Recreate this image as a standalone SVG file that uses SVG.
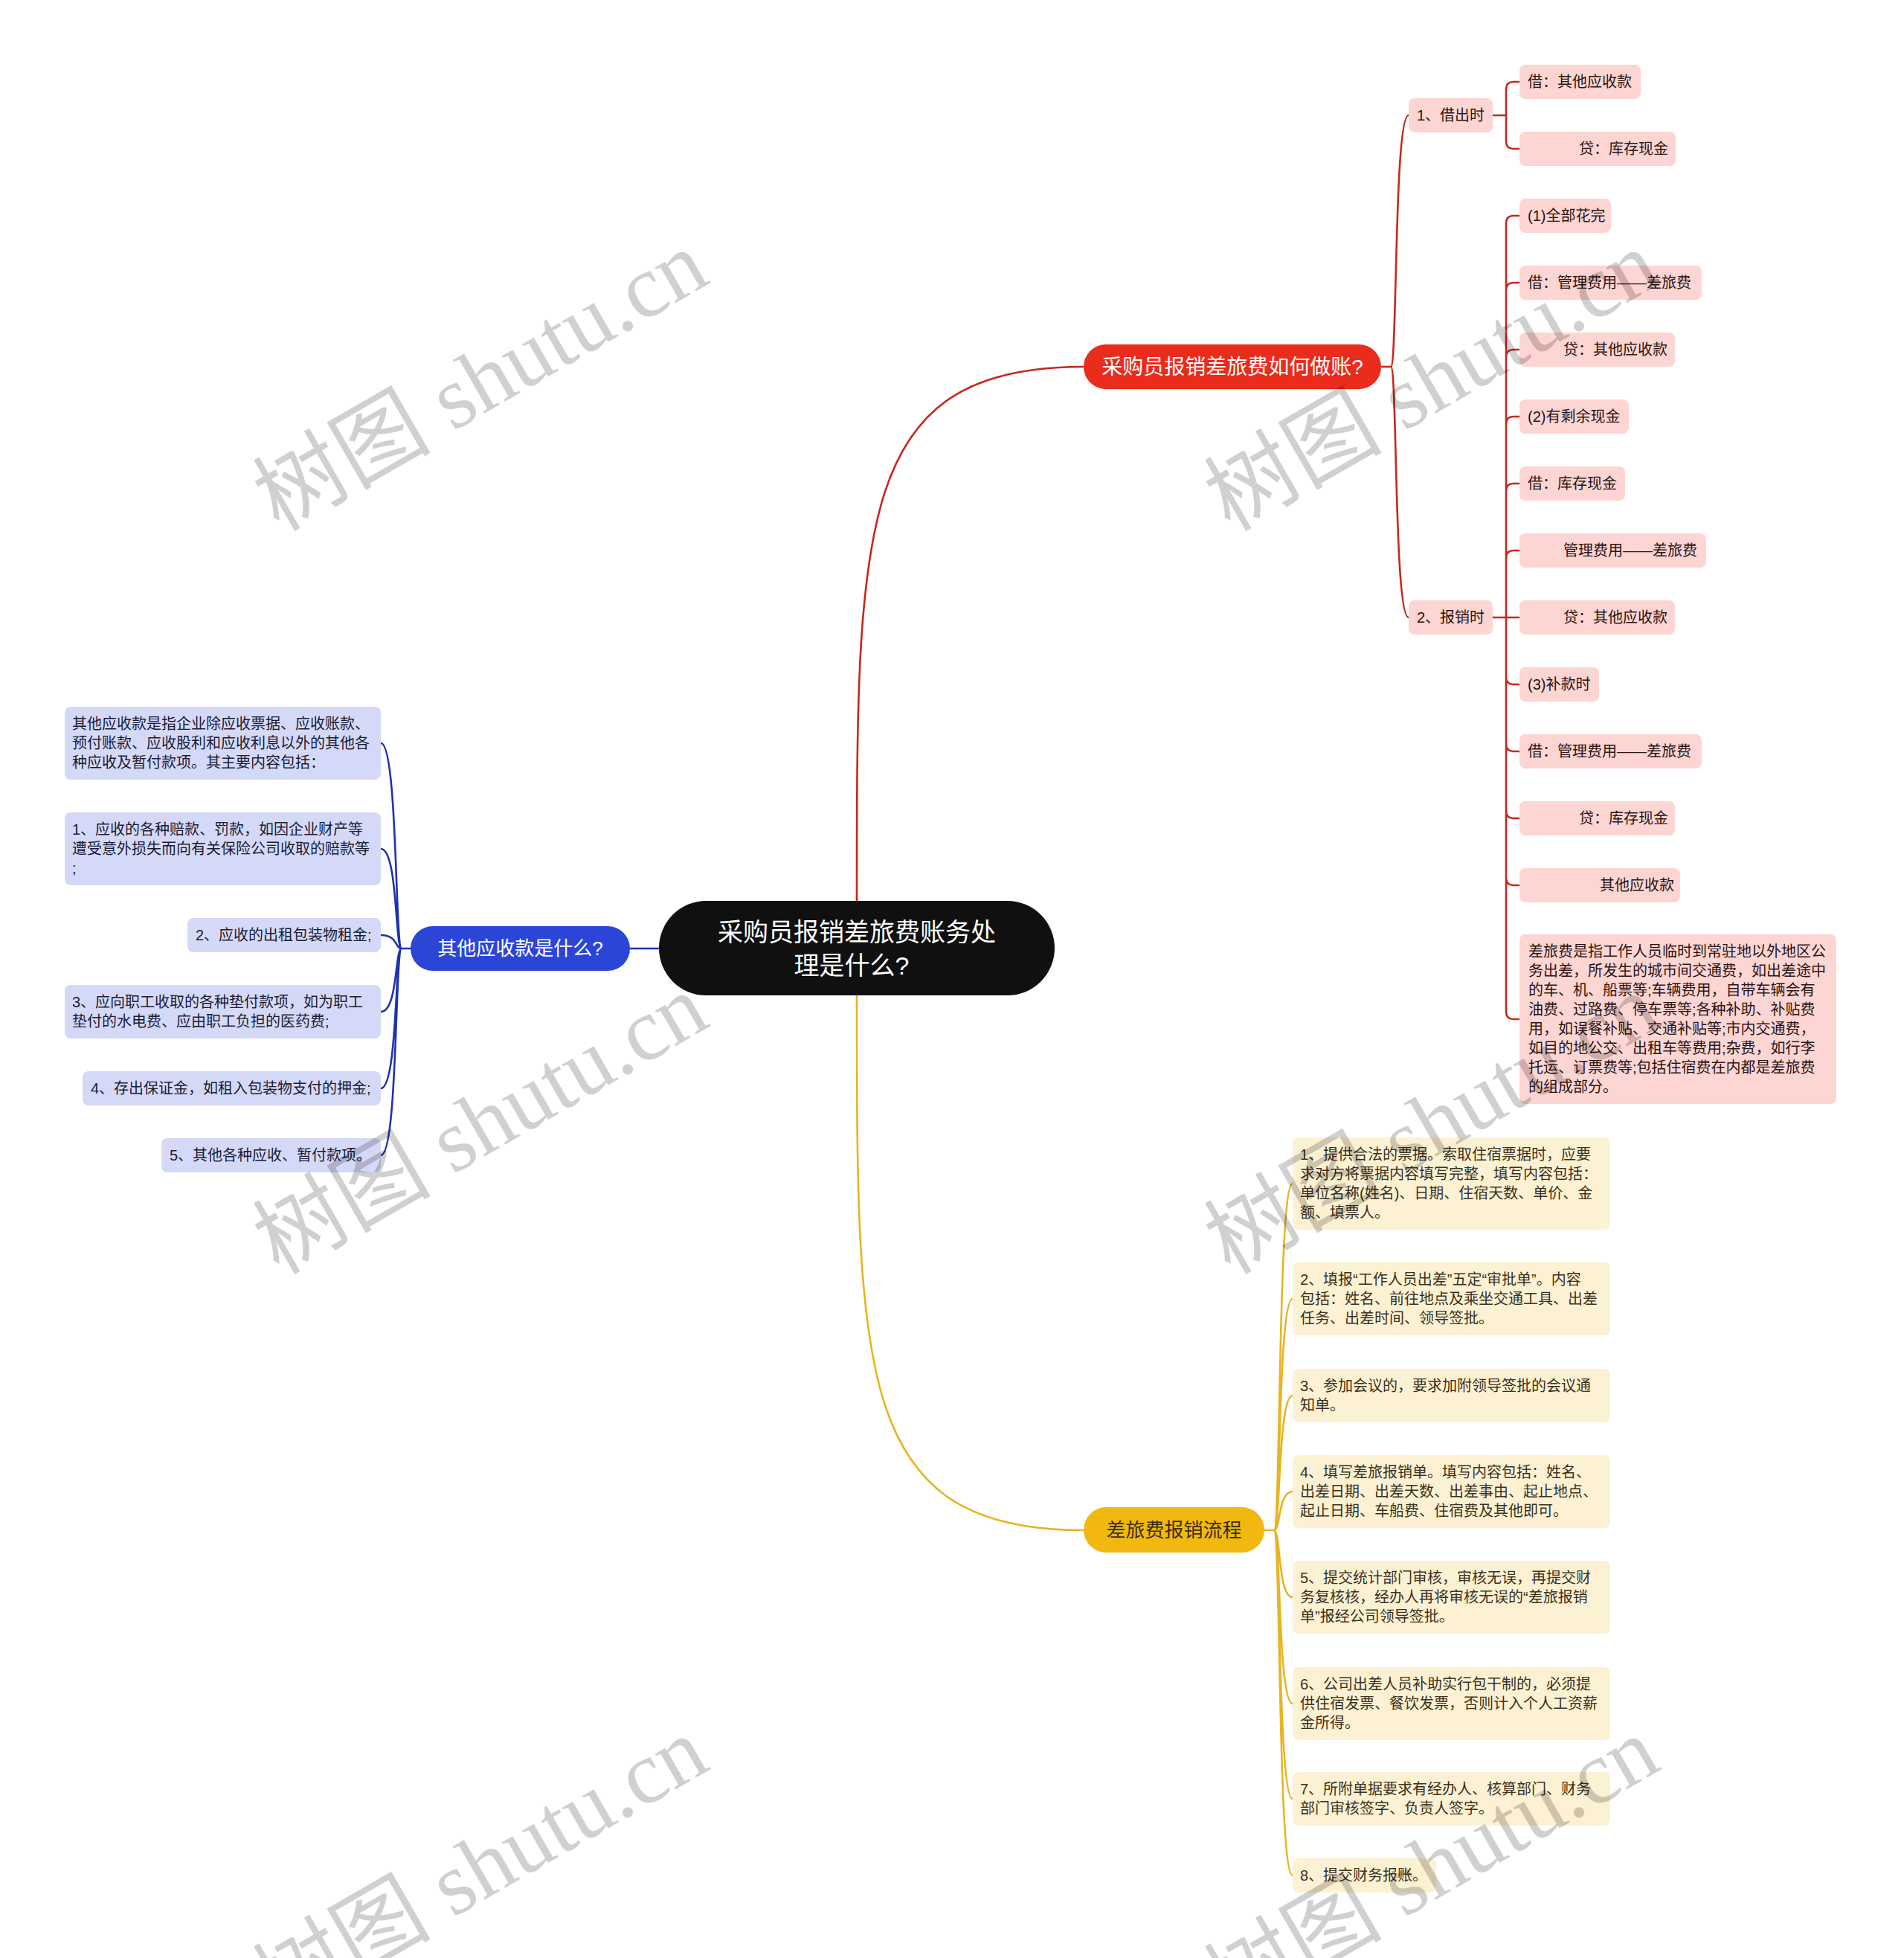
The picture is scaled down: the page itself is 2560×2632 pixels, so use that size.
<svg xmlns="http://www.w3.org/2000/svg" width="2560" height="2632" viewBox="0 0 2560 2632">
<style>
text{font-family:"Liberation Sans","Noto Sans CJK SC",sans-serif;dominant-baseline:central}
.t20{font-size:20px}
.rl{fill:#FDD5D2}
.rt{fill:#2A1414}
.bl{fill:#D5D9F8}
.bt{fill:#1A1C36}
.yl{fill:#FDF1D3}
.yt{fill:#3A3120}
.cr{fill:none;stroke:#C7281D;stroke-width:2.6}
.cb{fill:none;stroke:#1D33AE;stroke-width:2.6}
.cy{fill:none;stroke:#E8B423;stroke-width:2.6}
.wm{font-family:"Liberation Serif","Noto Sans CJK SC",serif;font-size:120px;fill:#000;opacity:0.18;text-anchor:middle}
</style>
<rect width="2560" height="2632" fill="#fff"/>
<g id="connectors">
<path class="cr" stroke-width="3" d="M1152 1211 C1152 700 1152 493 1457 493"/>
<path class="cy" stroke-width="3" d="M1152 1338 C1152 1850 1152 2057 1457 2057"/>
<path class="cb" stroke-width="3" d="M886 1275 H847"/>
<path class="cr" d="M1857 493 H1870 C1879 493 1874 155 1894 155"/>
<path class="cr" d="M1870 493 C1879 493 1874 830 1894 830"/>
<path class="cr" d="M2007 155 H2025 V120 Q2025 110 2035 110 H2043 M2025 155 V190 Q2025 200 2035 200 H2043"/>
<path class="cr" d="M2007 830 H2043
M2025 830 V300 Q2025 290 2035 290 H2043
M2025 830 V390 Q2025 380 2035 380 H2043
M2025 830 V480 Q2025 470 2035 470 H2043
M2025 830 V570 Q2025 560 2035 560 H2043
M2025 830 V660 Q2025 650 2035 650 H2043
M2025 830 V750 Q2025 740 2035 740 H2043
M2025 830 V910 Q2025 920 2035 920 H2043
M2025 830 V1000 Q2025 1010 2035 1010 H2043
M2025 830 V1090 Q2025 1100 2035 1100 H2043
M2025 830 V1180 Q2025 1190 2035 1190 H2043
M2025 830 V1360 Q2025 1370 2035 1370 H2043"/>
<path class="cb" d="M552 1275 H540
M540 1275 C531 1275 535 999 512 999
M540 1275 C531 1275 535 1141 512 1141
M540 1275 C531 1275 535 1257 512 1257
M540 1275 C531 1275 535 1360 512 1360
M540 1275 C531 1275 535 1463 512 1463
M540 1275 C531 1275 535 1553 512 1553"/>
<path class="cy" d="M1700 2057 H1713
M1713 2057 C1722 2057 1718 1591 1738 1591
M1713 2057 C1722 2057 1718 1746 1738 1746
M1713 2057 C1722 2057 1718 1876 1738 1876
M1713 2057 C1722 2057 1718 2005 1738 2005
M1713 2057 C1722 2057 1718 2147 1738 2147
M1713 2057 C1722 2057 1718 2290 1738 2290
M1713 2057 C1722 2057 1718 2418 1738 2418
M1713 2057 C1722 2057 1718 2521 1738 2521"/>
</g>
<g id="root">
<rect x="886" y="1211" width="532" height="127" rx="63.5" fill="#101010"/>
<text x="1152" y="1253" font-size="34" fill="#fff" text-anchor="middle">采购员报销差旅费账务处</text>
<text x="1145" y="1298" font-size="34" fill="#fff" text-anchor="middle">理是什么?</text>
</g>
<g id="n-red">
<rect x="1457" y="463" width="400" height="60" rx="30" fill="#E92C1B"/>
<text x="1657" y="493" font-size="28" fill="#fff" text-anchor="middle">采购员报销差旅费如何做账?</text>
</g>
<g id="n-blue">
<rect x="552" y="1245" width="295" height="60" rx="30" fill="#2B46D6"/>
<text x="699.5" y="1275" font-size="26" fill="#fff" text-anchor="middle">其他应收款是什么?</text>
</g>
<g id="n-yellow">
<rect x="1457" y="2026" width="243" height="61" rx="30.5" fill="#F1B90F"/>
<text x="1578.5" y="2057" font-size="26" fill="#3A2C05" text-anchor="middle">差旅费报销流程</text>
</g>
<g id="r1"><rect class="rl" x="1894" y="132" width="113" height="46" rx="8"/><text class="t20 rt" x="1905" y="155">1、借出时</text></g>
<g id="r2"><rect class="rl" x="1894" y="807" width="113" height="46" rx="8"/><text class="t20 rt" x="1905" y="830">2、报销时</text></g>
<g id="r1a"><rect class="rl" x="2043" y="87" width="163" height="46" rx="8"/><text class="t20 rt" x="2054" y="110">借：其他应收款</text></g>
<g id="r1b"><rect class="rl" x="2043" y="177" width="210" height="46" rx="8"/><text class="t20 rt" x="2123" y="200">贷：库存现金</text></g>
<g id="r2a"><rect class="rl" x="2043" y="267" width="123" height="46" rx="8"/><text class="t20 rt" x="2054" y="290">(1)全部花完</text></g>
<g id="r2b"><rect class="rl" x="2043" y="357" width="245" height="46" rx="8"/><text class="t20 rt" x="2054" y="380">借：管理费用——差旅费</text></g>
<g id="r2c"><rect class="rl" x="2043" y="447" width="209" height="46" rx="8"/><text class="t20 rt" x="2102" y="470">贷：其他应收款</text></g>
<g id="r2d"><rect class="rl" x="2043" y="537" width="147" height="46" rx="8"/><text class="t20 rt" x="2054" y="560">(2)有剩余现金</text></g>
<g id="r2e"><rect class="rl" x="2043" y="627" width="142" height="46" rx="8"/><text class="t20 rt" x="2054" y="650">借：库存现金</text></g>
<g id="r2f"><rect class="rl" x="2043" y="717" width="251" height="46" rx="8"/><text class="t20 rt" x="2102" y="740">管理费用——差旅费</text></g>
<g id="r2g"><rect class="rl" x="2043" y="807" width="209" height="46" rx="8"/><text class="t20 rt" x="2102" y="830">贷：其他应收款</text></g>
<g id="r2h"><rect class="rl" x="2043" y="897" width="107" height="46" rx="8"/><text class="t20 rt" x="2054" y="920">(3)补款时</text></g>
<g id="r2i"><rect class="rl" x="2043" y="987" width="245" height="46" rx="8"/><text class="t20 rt" x="2054" y="1010">借：管理费用——差旅费</text></g>
<g id="r2j"><rect class="rl" x="2043" y="1077" width="209" height="46" rx="8"/><text class="t20 rt" x="2123" y="1100">贷：库存现金</text></g>
<g id="r2k"><rect class="rl" x="2043" y="1167" width="216" height="46" rx="8"/><text class="t20 rt" x="2151" y="1190">其他应收款</text></g>
<g id="r2l"><rect class="rl" x="2043" y="1256" width="426" height="228" rx="8"/>
<text class="t20 rt" x="2055" y="1279">差旅费是指工作人员临时到常驻地以外地区公</text>
<text class="t20 rt" x="2055" y="1305">务出差，所发生的城市间交通费，如出差途中</text>
<text class="t20 rt" x="2055" y="1331">的车、机、船票等;车辆费用，自带车辆会有</text>
<text class="t20 rt" x="2055" y="1357">油费、过路费、停车票等;各种补助、补贴费</text>
<text class="t20 rt" x="2055" y="1383">用，如误餐补贴、交通补贴等;市内交通费，</text>
<text class="t20 rt" x="2055" y="1409">如目的地公交、出租车等费用;杂费，如行李</text>
<text class="t20 rt" x="2055" y="1435">托运、订票费等;包括住宿费在内都是差旅费</text>
<text class="t20 rt" x="2055" y="1461">的组成部分。</text>
</g>
<g id="b1"><rect class="bl" x="87" y="950" width="425" height="98" rx="8"/>
<text class="t20 bt" x="97" y="973">其他应收款是指企业除应收票据、应收账款、</text>
<text class="t20 bt" x="97" y="999">预付账款、应收股利和应收利息以外的其他各</text>
<text class="t20 bt" x="97" y="1025">种应收及暂付款项。其主要内容包括：</text>
</g>
<g id="b2"><rect class="bl" x="87" y="1092" width="425" height="98" rx="8"/>
<text class="t20 bt" x="97" y="1115">1、应收的各种赔款、罚款，如因企业财产等</text>
<text class="t20 bt" x="97" y="1141">遭受意外损失而向有关保险公司收取的赔款等</text>
<text class="t20 bt" x="97" y="1167">;</text>
</g>
<g id="b3"><rect class="bl" x="252" y="1234" width="260" height="46" rx="8"/><text class="t20 bt" x="263" y="1257">2、应收的出租包装物租金;</text></g>
<g id="b4"><rect class="bl" x="87" y="1324" width="425" height="72" rx="8"/>
<text class="t20 bt" x="97" y="1347">3、应向职工收取的各种垫付款项，如为职工</text>
<text class="t20 bt" x="97" y="1373">垫付的水电费、应由职工负担的医药费;</text>
</g>
<g id="b5"><rect class="bl" x="111" y="1440" width="401" height="46" rx="8"/><text class="t20 bt" x="122" y="1463">4、存出保证金，如租入包装物支付的押金;</text></g>
<g id="b6"><rect class="bl" x="217" y="1530" width="295" height="46" rx="8"/><text class="t20 bt" x="228" y="1553">5、其他各种应收、暂付款项。</text></g>
<g id="y1"><rect class="yl" x="1738" y="1529" width="427" height="124" rx="8"/>
<text class="t20 yt" x="1748" y="1552">1、提供合法的票据。索取住宿票据时，应要</text>
<text class="t20 yt" x="1748" y="1578">求对方将票据内容填写完整，填写内容包括：</text>
<text class="t20 yt" x="1748" y="1604">单位名称(姓名)、日期、住宿天数、单价、金</text>
<text class="t20 yt" x="1748" y="1630">额、填票人。</text>
</g>
<g id="y2"><rect class="yl" x="1738" y="1697" width="427" height="98" rx="8"/>
<text class="t20 yt" x="1748" y="1720">2、填报“工作人员出差”五定“审批单”。内容</text>
<text class="t20 yt" x="1748" y="1746">包括：姓名、前往地点及乘坐交通工具、出差</text>
<text class="t20 yt" x="1748" y="1772">任务、出差时间、领导签批。</text>
</g>
<g id="y3"><rect class="yl" x="1738" y="1840" width="427" height="72" rx="8"/>
<text class="t20 yt" x="1748" y="1863">3、参加会议的，要求加附领导签批的会议通</text>
<text class="t20 yt" x="1748" y="1889">知单。</text>
</g>
<g id="y4"><rect class="yl" x="1738" y="1956" width="427" height="98" rx="8"/>
<text class="t20 yt" x="1748" y="1979">4、填写差旅报销单。填写内容包括：姓名、</text>
<text class="t20 yt" x="1748" y="2005">出差日期、出差天数、出差事由、起止地点、</text>
<text class="t20 yt" x="1748" y="2031">起止日期、车船费、住宿费及其他即可。</text>
</g>
<g id="y5"><rect class="yl" x="1738" y="2098" width="427" height="98" rx="8"/>
<text class="t20 yt" x="1748" y="2121">5、提交统计部门审核，审核无误，再提交财</text>
<text class="t20 yt" x="1748" y="2147">务复核核，经办人再将审核无误的“差旅报销</text>
<text class="t20 yt" x="1748" y="2173">单”报经公司领导签批。</text>
</g>
<g id="y6"><rect class="yl" x="1738" y="2241" width="427" height="98" rx="8"/>
<text class="t20 yt" x="1748" y="2264">6、公司出差人员补助实行包干制的，必须提</text>
<text class="t20 yt" x="1748" y="2290">供住宿发票、餐饮发票，否则计入个人工资薪</text>
<text class="t20 yt" x="1748" y="2316">金所得。</text>
</g>
<g id="y7"><rect class="yl" x="1738" y="2382" width="427" height="72" rx="8"/>
<text class="t20 yt" x="1748" y="2405">7、所附单据要求有经办人、核算部门、财务</text>
<text class="t20 yt" x="1748" y="2431">部门审核签字、负责人签字。</text>
</g>
<g id="y8"><rect class="yl" x="1738" y="2498" width="193" height="46" rx="8"/><text class="t20 yt" x="1748" y="2521">8、提交财务报账。</text></g>
<g id="watermark">
<text class="wm" transform="translate(646 512) rotate(-30)">树图 shutu.cn</text>
<text class="wm" transform="translate(646 1511) rotate(-30)">树图 shutu.cn</text>
<text class="wm" transform="translate(646 2510) rotate(-30)">树图 shutu.cn</text>
<text class="wm" transform="translate(1925 512) rotate(-30)">树图 shutu.cn</text>
<text class="wm" transform="translate(1925 1511) rotate(-30)">树图 shutu.cn</text>
<text class="wm" transform="translate(1925 2510) rotate(-30)">树图 shutu.cn</text>
</g>
</svg>
